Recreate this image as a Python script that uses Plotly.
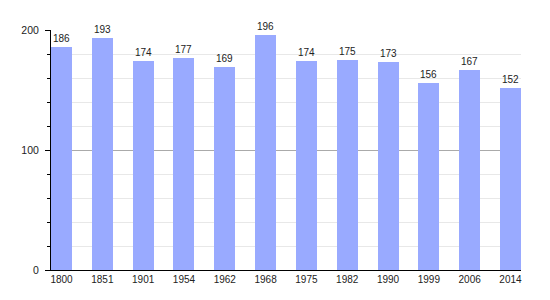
import plotly.graph_objects as go

years = ["1800", "1851", "1901", "1954", "1962", "1968", "1975", "1982", "1990", "1999", "2006", "2014"]
population = [186, 193, 174, 177, 169, 196, 174, 175, 173, 156, 167, 152]

bar_w = 0.515
font = "Liberation Sans, Arial, sans-serif"

fig = go.Figure(go.Bar(
    x=years, y=population, width=bar_w,
    marker=dict(color="#99aaff", line=dict(width=0)),
    text=[str(v) for v in population], textposition="outside",
    textfont=dict(family=font, size=10, color="#222222"),
    cliponaxis=False,
))

fig.update_layout(
    width=550, height=300,
    margin=dict(l=51, r=29, t=30, b=30),
    paper_bgcolor="white", plot_bgcolor="white",
    showlegend=False,
    font=dict(family=font, size=10, color="#222222"),
    xaxis=dict(
        type="category", range=[-bar_w / 2, len(years) - 1 + bar_w / 2],
        showgrid=False, ticks="", showline=True, linecolor="black", linewidth=1,
        tickfont=dict(size=10, color="#222222"), fixedrange=True,
    ),
    yaxis=dict(
        range=[0, 200], dtick=100, tick0=0,
        showgrid=True, gridcolor="#aaaaaa", gridwidth=1,
        zeroline=False, showline=True, linecolor="black", linewidth=1,
        ticks="outside", ticklen=5, tickcolor="black",
        tickfont=dict(size=10.5, color="#222222"), ticklabelstandoff=4,
        minor=dict(dtick=20, tick0=0, showgrid=True, gridcolor="#e8e8e8",
                   ticks="outside", ticklen=3, tickcolor="black"),
        fixedrange=True,
    ),
    bargap=0,
)

fig.write_html("out.html")
